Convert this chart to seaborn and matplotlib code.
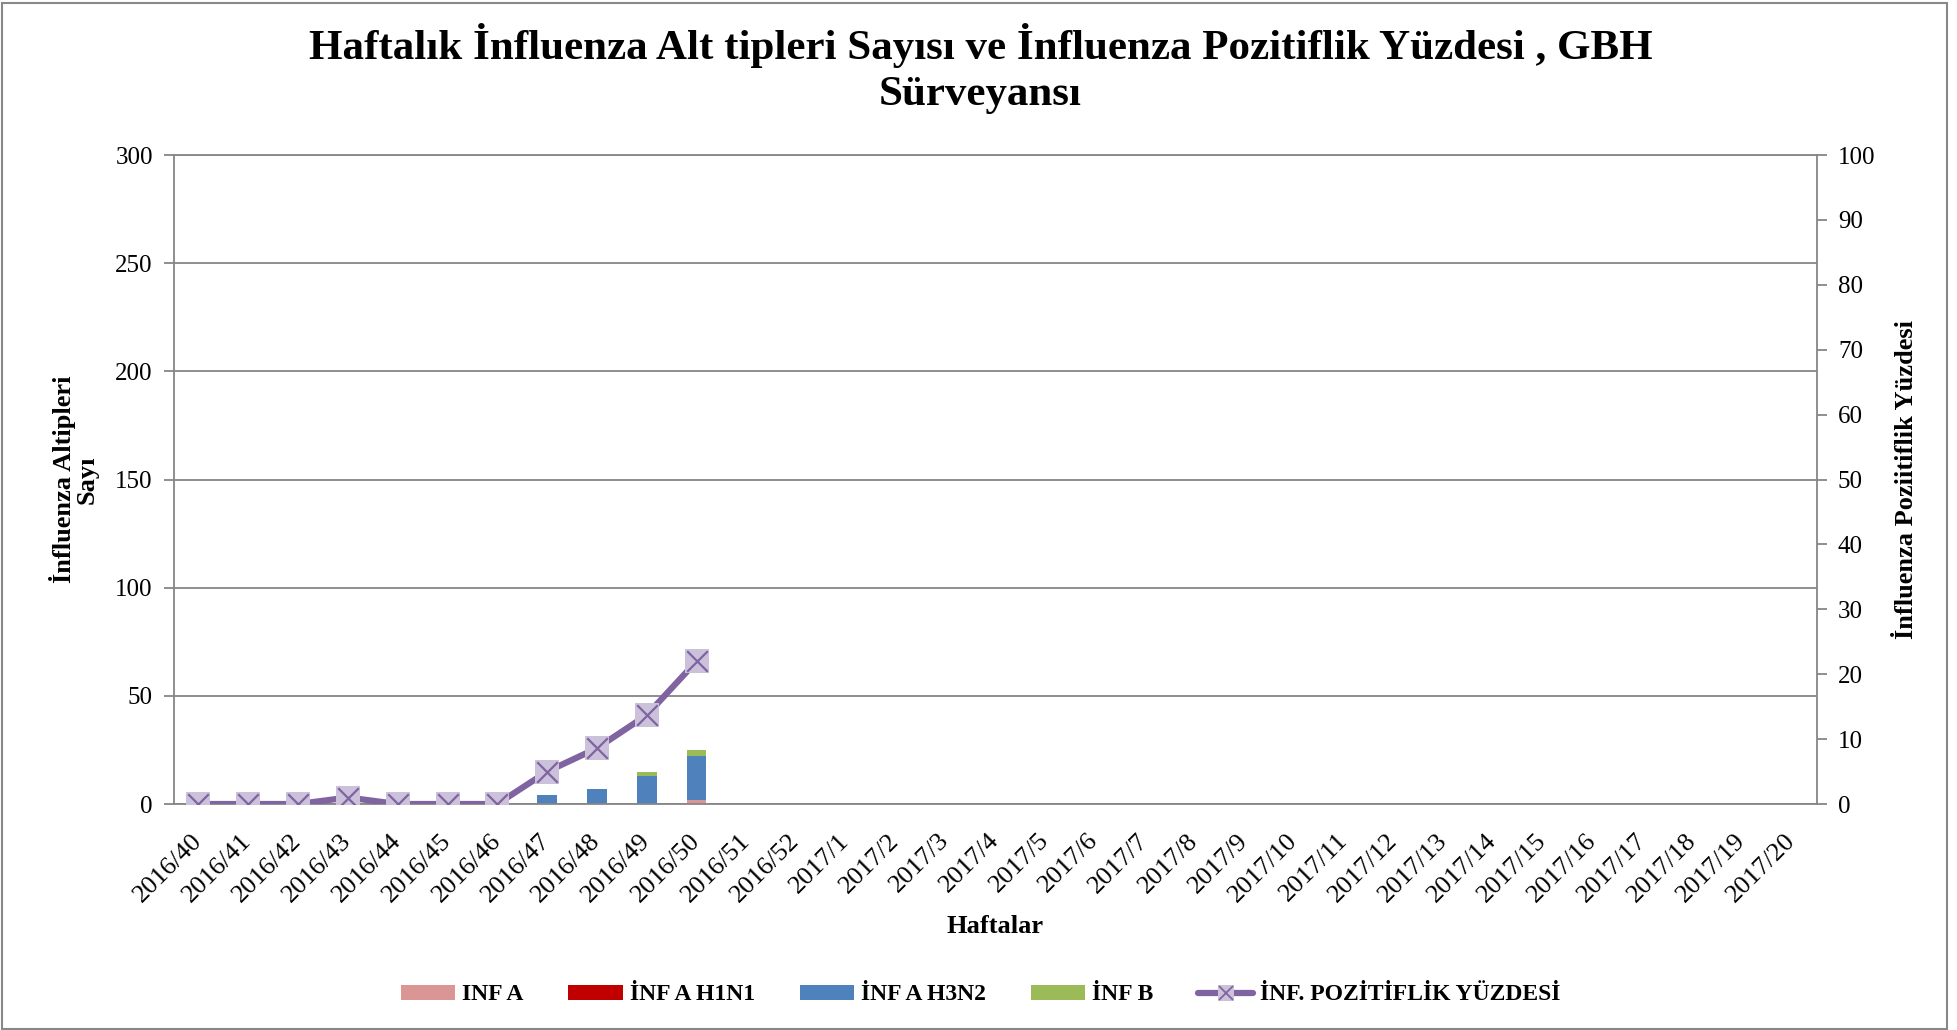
import numpy as np
import pandas as pd
import matplotlib
matplotlib.use('Agg')
import matplotlib.pyplot as plt
import seaborn as sns
from matplotlib.patches import Patch, Rectangle
from matplotlib.lines import Line2D

# ── DATA ─────────────────────────────────────
weeks = [f'2016/{w}' for w in range(40, 53)] + [f'2017/{w}' for w in range(1, 21)]

inf_a = [0, 0, 0, 0, 0, 0, 0, 0, 0, 0, 2]
inf_a_h1n1 = [0, 0, 0, 0, 0, 0, 0, 0, 0, 0, 0]
inf_a_h3n2 = [0, 0, 0, 0, 0, 0, 0, 4, 7, 13, 20]
inf_b = [0, 0, 0, 0, 0, 0, 0, 0, 0, 2, 3]
pozitiflik = [0, 0, 0, 1, 0, 0, 0, 5, 8.6, 13.7, 22]

labels = ['INF A', 'İNF A H1N1', 'İNF A H3N2', 'İNF B', 'İNF. POZİTİFLİK YÜZDESİ']
colors = ['#D99694', '#C00000', '#4F81BD', '#9BBB59']
line_color = '#8064A2'
marker_fill = '#CCC1DA'

# pad bar series to all weeks (no data after 2016/50)
n = len(weeks)
def pad(v):
    return list(v) + [0] * (n - len(v))

df = pd.DataFrame({
    'hafta': weeks,
    'a': pad(inf_a),
    'h1n1': pad(inf_a_h1n1),
    'h3n2': pad(inf_a_h3n2),
    'b': pad(inf_b),
})
# cumulative totals for stacking (draw tallest first)
df['c1'] = df['a']
df['c2'] = df['c1'] + df['h1n1']
df['c3'] = df['c2'] + df['h3n2']
df['c4'] = df['c3'] + df['b']

# ── STYLE ────────────────────────────────────
sns.set_style('white')
plt.rcParams['font.family'] = ['Liberation Serif', 'DejaVu Serif']
plt.rcParams['text.color'] = 'black'
plt.rcParams['axes.labelcolor'] = 'black'
plt.rcParams['xtick.color'] = 'black'
plt.rcParams['ytick.color'] = 'black'

fig = plt.figure(figsize=(19.57, 10.30), dpi=100)
ax = fig.add_axes([0.0887, 0.2194, 0.8398, 0.6301])

for col, c in zip(['c4', 'c3', 'c2', 'c1'], colors[::-1]):
    sns.barplot(data=df, x='hafta', y=col, color=c, width=0.4,
                linewidth=0, saturation=1, ax=ax, order=weeks)

ax.set_xlim(-0.5, n - 0.5)
ax.set_ylim(0, 300)
ax.set_yticks(range(0, 301, 50))
grey = '#868686'
ax.yaxis.grid(True, color=grey, linewidth=1.3)
ax.set_axisbelow(True)
for s in ['left', 'bottom', 'right', 'top']:
    ax.spines[s].set_color(grey)
    ax.spines[s].set_linewidth(1.3)

# Excel style ticks between categories
ax.set_xticks(np.arange(n))
ax.set_xticklabels(weeks, rotation=45, ha='right', va='center',
                   rotation_mode='anchor', fontsize=19)
ax.set_xticks(np.arange(n + 1) - 0.5, minor=True)
ax.tick_params(axis='x', which='major', length=0, pad=24)
ax.tick_params(axis='x', which='minor', length=7, width=1.3, color=grey, direction='out')
ax.tick_params(axis='y', which='major', length=7, width=1.3, color=grey,
               direction='out', labelsize=18, left=True, pad=8)
ax.set_xlabel('Haftalar', fontsize=19, fontweight='bold', labelpad=6)
ax.set_ylabel('İnfluenza Altipleri\nSayı', fontsize=19, fontweight='bold',
              labelpad=12, linespacing=1.0)

# ── POSITIVITY LINE ──────────────────────────
ax2 = ax.twinx()
x_line = np.arange(len(pozitiflik))
sns.lineplot(x=x_line, y=pozitiflik, color=line_color, linewidth=4.5,
             marker='s', markersize=17, markerfacecolor=marker_fill,
             markeredgewidth=0, ax=ax2)
sns.scatterplot(x=x_line, y=pozitiflik, marker='x', s=220, color=line_color,
                linewidth=1.6, ax=ax2, zorder=5)
ax2.set_ylim(0, 100)
ax2.set_yticks(range(0, 101, 10))
ax2.tick_params(axis='y', length=7, width=1.3, color=grey, direction='out',
                labelsize=18, right=True, pad=8)
for s in ax2.spines.values():
    s.set_visible(False)
ax2.set_ylabel('İnfluenza Poziitiflik Yüzdesi', fontsize=19, fontweight='bold',
               rotation=90, labelpad=14)
ax2.set_xlim(-0.5, n - 0.5)

# ── TITLE & LEGEND ───────────────────────────
fig.text(0.501, 0.978, 'Haftalık İnfluenza Alt tipleri Sayısı ve İnfluenza Pozitiflik Yüzdesi , GBH\nSürveyansı',
         ha='center', va='top', fontsize=31, fontweight='bold', linespacing=1.3)

handles = [Patch(facecolor=c, edgecolor='none') for c in colors]
line_handle = Line2D([0], [0], color=line_color, linewidth=4.5, marker='s',
                     markersize=12, markerfacecolor=marker_fill, markeredgewidth=0)
x_handle = Line2D([0], [0], linestyle='none', marker='x', markersize=10,
                  color=line_color, markeredgewidth=1.3)
handles.append((line_handle, x_handle))
leg = fig.legend(handles, labels, loc='center', bbox_to_anchor=(0.501, 0.034), ncol=5,
                 frameon=False, prop={'weight': 'bold', 'size': 17},
                 handlelength=2.3, handleheight=0.6, columnspacing=1.9, handletextpad=0.3)

# chart border
fig.patches.append(Rectangle((0.001, 0.001), 0.994, 0.996, transform=fig.transFigure,
                             fill=False, edgecolor='#888888', linewidth=1.5))

fig.savefig('out.png', dpi=100)
